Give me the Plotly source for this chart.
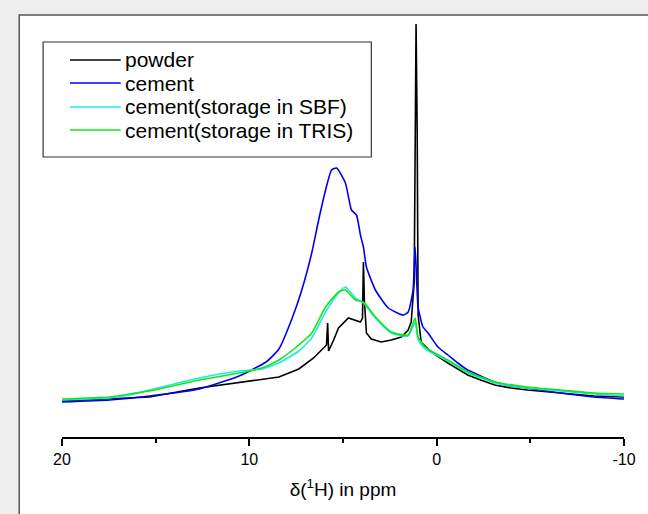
import plotly.graph_objects as go

# ---------------- data (ppm, intensity a.u.) ----------------
powder_ppm = [20.0, 17.45, 15.33, 12.67, 10.02, 8.42, 7.89, 7.36, 6.57, 6.04, 5.88, 5.82, 5.77,
              5.50, 5.24, 4.71, 4.44, 4.07, 3.96, 3.91, 3.86, 3.75, 3.49, 2.96, 2.42, 1.89,
              1.52, 1.36, 1.20, 1.15, 1.10, 1.04, 0.99, 0.83, 0.30, -0.60, -1.13, -1.66,
              -2.35, -3.10, -3.95, -4.85, -6.60, -8.41, -10.0]
powder_int = [36, 38, 40, 49, 56, 60, 64, 68, 79, 89, 92, 114, 86,
              97, 109, 119, 117, 115, 119, 175, 137, 104, 98, 95, 97, 100,
              107, 115, 155, 307, 413, 307, 122, 95, 85, 74, 68, 62,
              57, 52, 49, 47, 44, 41, 40]

cement_ppm = [20.0, 17.45, 15.33, 12.67, 10.55, 9.11, 8.42, 7.73, 7.20, 6.67, 6.30, 5.93, 5.61,
              5.34, 4.87, 4.55, 4.28, 4.07, 3.91, 3.75, 3.27, 2.58, 1.79, 1.52, 1.26, 1.15,
              0.99, 0.73, 0.46, -0.07, -0.60, -1.13, -1.66, -2.35, -3.10, -3.95, -4.85,
              -6.60, -8.41, -10.0]
cement_int = [35, 37, 41, 48, 61, 75, 88, 118, 147, 184, 217, 247, 267,
              269, 254, 227, 222, 202, 190, 170, 147, 129, 122, 125, 147, 190,
              130, 110, 104, 90, 82, 74, 67, 61, 55, 51, 49,
              44, 40, 38]

sbf_ppm = [20.0, 17.45, 16.4, 15.33, 12.67, 10.55, 9.33, 8.42, 7.36, 6.67, 5.93, 5.24, 4.87,
           4.34, 3.91, 3.27, 2.42, 1.52, 1.15, 0.99, 0.62, -0.60, -1.13, -1.66, -2.35,
           -3.10, -4.85, -6.60, -8.41, -10.0]
sbf_int = [37, 39, 42, 47, 59, 66, 68, 74, 86, 99, 125, 144, 150,
           139, 134, 119, 104, 101, 115, 97, 88, 76, 70, 64, 59,
           54, 49, 46, 43, 41]

tris_ppm = [20.0, 17.45, 16.4, 15.33, 12.67, 10.55, 9.33, 8.42, 7.36, 6.67, 5.93, 5.24, 4.87,
            4.34, 3.91, 3.27, 2.42, 1.52, 1.15, 0.99, 0.62, -0.60, -1.13, -1.66, -2.35,
            -3.10, -4.85, -6.60, -8.41, -10.0]
tris_int = [38, 40, 43, 46, 57, 64, 69, 77, 92, 104, 130, 145, 147,
            137, 135, 120, 105, 102, 119, 100, 90, 77, 71, 65, 60,
            55, 50, 47, 44, 43]

names = ["powder", "cement", "cement(storage in SBF)", "cement(storage in TRIS)"]
colors = ["black", "#0000f0", "#1ee8e8", "#14e614"]
x_ticks = [20, 10, 0, -10]

# ---------------- figure ----------------
fig = go.Figure()
for i, (xs, ys, nm, col) in enumerate(zip([powder_ppm, cement_ppm, sbf_ppm, tris_ppm],
                                          [powder_int, cement_int, sbf_int, tris_int],
                                          names, colors)):
    # broad bands get a light spline, the sharp powder line stays linear
    shape = "linear" if i == 0 else "spline"
    fig.add_trace(go.Scatter(x=xs, y=ys, name=nm, mode="lines",
                             line=dict(color=col, width=1.6, shape=shape, smoothing=0.5),
                             showlegend=False))

# white panel on grey page
fig.add_shape(type="rect", xref="paper", yref="paper",
              x0=-0.0761, x1=1.2, y0=-0.3, y1=1.012,
              fillcolor="white", line=dict(color="#555555", width=1.5), layer="below")

# legend box drawn by hand (Origin style)
fig.add_shape(type="rect", xref="paper", yref="paper",
              x0=-0.0336, x1=0.5504, y0=0.6715, y1=0.9472,
              fillcolor="white", line=dict(color="#333333", width=1.2))
legend_y = [0.9041, 0.8489, 0.7914, 0.7362]
for yy, nm, col in zip(legend_y, names, colors):
    fig.add_shape(type="line", xref="paper", yref="paper",
                  x0=0.0142, x1=0.1044, y0=yy, y1=yy,
                  line=dict(color=col, width=1.6))
    fig.add_annotation(xref="paper", yref="paper", x=0.1080, y=yy,
                       xanchor="left", yanchor="middle", showarrow=False,
                       text=nm, font=dict(size=21, color="black"))

fig.update_layout(
    width=648, height=514,
    margin=dict(l=62, r=21, t=20, b=77),
    paper_bgcolor="#eeeeee",
    plot_bgcolor="rgba(0,0,0,0)",
    font=dict(family="Liberation Sans, Arial", color="black"),
    showlegend=False,
    xaxis=dict(range=[20, -10], tickvals=x_ticks, ticktext=[str(v) for v in x_ticks],
               showline=True, linecolor="black", linewidth=1.8,
               ticks="outside", ticklen=7, tickwidth=1.8, tickcolor="black",
               showgrid=False, zeroline=False, tickfont=dict(size=16),
               minor=dict(tickvals=[15, 5, -5], ticks="outside", ticklen=4,
                          tickwidth=1.8, tickcolor="black", showgrid=False),
               title=dict(text="δ(<sup>1</sup>H) in ppm", font=dict(size=19), standoff=16)),
    yaxis=dict(range=[0, 417], visible=False, showgrid=False, zeroline=False),
)

fig.write_html("out.html", config={"displayModeBar": False},
               post_script="document.body.style.margin='0px';"
                           "document.body.style.overflow='hidden';")
